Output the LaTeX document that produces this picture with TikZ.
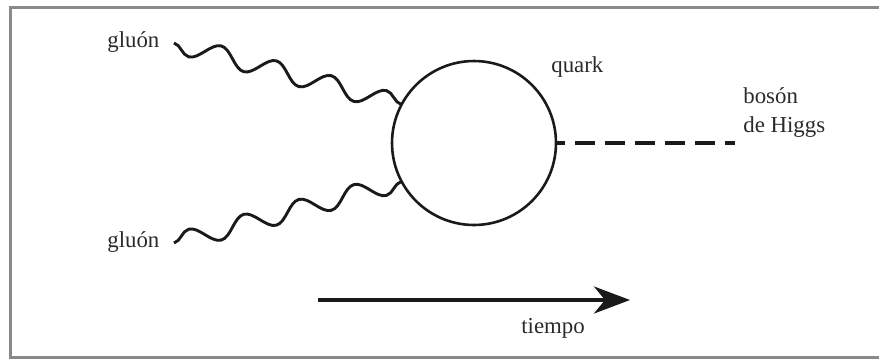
\documentclass[tikz,border=0pt]{standalone}
\usepackage{fontspec}
\setmainfont{Liberation Serif}
\usetikzlibrary{arrows.meta,decorations.pathmorphing}
\definecolor{framegray}{HTML}{8A8A8A}
\definecolor{inkdark}{HTML}{1A1A1A}
\definecolor{labelgray}{HTML}{2A2A2A}
\tikzset{
  >={Stealth[length=0.72cm,width=0.54cm,inset=0.22cm]},
  frameline/.style={draw=framegray, line width=0.06cm},
  gluonline/.style={
    draw=inkdark,
    line width=0.058cm,
    decorate,
    decoration={snake, segment length=1.141cm, amplitude=0.19cm,
                pre length=0pt, post length=0pt},
  },
  loopcircle/.style={
    circle,
    draw=inkdark,
    line width=0.052cm,
    minimum size=3.28cm,
    inner sep=0pt,
    outer sep=0pt,
  },
  higgsline/.style={
    draw=inkdark,
    line width=0.075cm,
    dash pattern=on 0.4cm off 0.2cm,
    dash phase=0.22cm,
  },
  timearrow/.style={->, draw=inkdark, line width=0.075cm},
  lbl/.style={font=\fontsize{13}{16}\selectfont, text=labelgray, inner sep=0pt, align=left},
}
\begin{document}
\begin{tikzpicture}[x=0.02cm, y=-0.02cm, line cap=butt]
  \useasboundingbox (0,0) rectangle (879,360);
  % frame, open on the right
  \draw[frameline] (900,7) -| (10.5,357.5) -- (900,357.5);

  \node[loopcircle] (quark) at (474,143) {};

  \coordinate (g1start) at (174,43);
  \coordinate (g2start) at (174,243);
  \coordinate (higgsend) at (735,143);
  \coordinate (tstart) at (318,300);
  \coordinate (tend) at (630,300);

  \draw[gluonline, decoration={mirror}] (g1start) -- (quark.152);
  \draw[gluonline] (g2start) -- (quark.208);
  \draw[higgsline] (quark.east) -- (higgsend);
  \draw[timearrow] (tstart) -- (tend);

  \node[lbl, anchor=base west] (gluon1) at (107,47) {gluón};
  \node[lbl, anchor=base west] (gluon2) at (107,247) {gluón};
  \node[lbl, anchor=base west] (quarklbl) at (551,72) {quark};
  \node[lbl, anchor=base west] (higgs) at (743,132) {bosón\\de Higgs};
  \node[lbl, anchor=base west] (tiempo) at (521,333) {tiempo};
\end{tikzpicture}
\end{document}
